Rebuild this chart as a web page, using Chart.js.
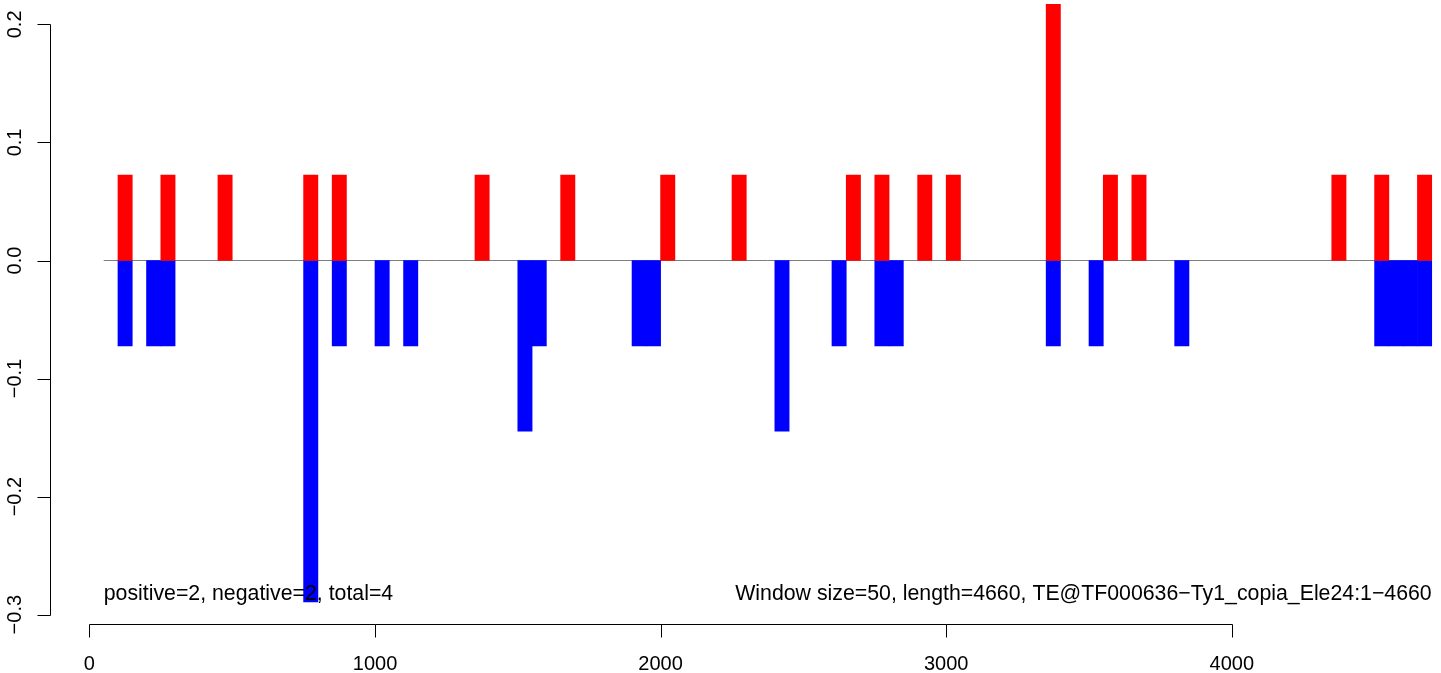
<!DOCTYPE html>
<html>
<head>
<meta charset="utf-8">
<script src="https://cdn.jsdelivr.net/npm/chart.js@4/dist/chart.umd.min.js"></script>
<style>
    body { margin: 0; background: #ffffff; }
    canvas { display: block; }
</style>
</head>
<body>
<canvas id="windowChart" width="1441" height="673"></canvas>
<script>
// Window starts (bp) and values
const windowSize = 50;
const positiveStarts = [100, 250, 450, 750, 850, 1350, 1650, 2000, 2250, 2650, 2750, 2900, 3000, 3350, 3550, 3650, 4350, 4500, 4650];
const positiveValues = [0.0723, 0.0723, 0.0723, 0.0723, 0.0723, 0.0723, 0.0723, 0.0723, 0.0723, 0.0723, 0.0723, 0.0723, 0.0723, 0.2169, 0.0723, 0.0723, 0.0723, 0.0723, 0.0723];
const negativeStarts = [100, 200, 250, 750, 850, 1000, 1100, 1500, 1550, 1900, 1950, 2400, 2600, 2750, 2800, 3350, 3500, 3800, 4500, 4550, 4600, 4650];
const negativeValues = [-0.0723, -0.0723, -0.0723, -0.2892, -0.0723, -0.0723, -0.0723, -0.1446, -0.0723, -0.0723, -0.0723, -0.1446, -0.0723, -0.0723, -0.0723, -0.0723, -0.0723, -0.0723, -0.0723, -0.0723, -0.0723, -0.0723];
const baselineX = [50, 4700];
const baselineY = [0, 0];

const xTickValues = [0, 1000, 2000, 3000, 4000];
const xTickLabels = ["0", "1000", "2000", "3000", "4000"];
const yTickValues = [-0.3, -0.2, -0.1, 0.0, 0.1, 0.2];
const yTickLabels = ["\u22120.3", "\u22120.2", "\u22120.1", "0.0", "0.1", "0.2"];

const leftNote = "positive=2, negative=2, total=4";
const rightNote = "Window size=50, length=4660, TE@TF000636\u2212Ty1_copia_Ele24:1\u22124660";

const fontFamily = '"Liberation Sans", Arial, Helvetica, sans-serif';

function toPoints(starts, values) {
    return starts.map((s, i) => ({ x: s + windowSize / 2, y: values[i] }));
}

// R-style axes (line only spans the tick range) and the two notes
const rAxesPlugin = {
    id: "rAxes",
    afterDraw(chart) {
        const ctx = chart.ctx;
        const xs = chart.scales.x;
        const ys = chart.scales.y;
        const area = chart.chartArea;
        ctx.save();
        ctx.strokeStyle = "#000000";
        ctx.fillStyle = "#000000";
        ctx.lineWidth = 1;

        // y axis
        const axX = area.left - 0.5;
        ctx.beginPath();
        ctx.moveTo(axX, Math.round(ys.getPixelForValue(yTickValues[yTickValues.length - 1])) + 0.5);
        ctx.lineTo(axX, Math.round(ys.getPixelForValue(yTickValues[0])) + 0.5);
        yTickValues.forEach((v) => {
            const py = Math.round(ys.getPixelForValue(v)) + 0.5;
            ctx.moveTo(axX, py);
            ctx.lineTo(axX - 13, py);
        });
        ctx.stroke();
        ctx.font = "20px " + fontFamily;
        ctx.textAlign = "center";
        ctx.textBaseline = "alphabetic";
        yTickValues.forEach((v, i) => {
            ctx.save();
            ctx.translate(20.5, ys.getPixelForValue(v));
            ctx.rotate(-Math.PI / 2);
            ctx.fillText(yTickLabels[i], 0, 0);
            ctx.restore();
        });

        // x axis
        const axY = area.bottom - 0.5;
        ctx.beginPath();
        ctx.moveTo(Math.round(xs.getPixelForValue(xTickValues[0])) + 0.5, axY);
        ctx.lineTo(Math.round(xs.getPixelForValue(xTickValues[xTickValues.length - 1])) + 0.5, axY);
        xTickValues.forEach((v) => {
            const px = Math.round(xs.getPixelForValue(v)) + 0.5;
            ctx.moveTo(px, axY);
            ctx.lineTo(px, axY + 13);
        });
        ctx.stroke();
        xTickValues.forEach((v, i) => {
            ctx.fillText(xTickLabels[i], xs.getPixelForValue(v), 670);
        });

        // notes inside the plot
        ctx.font = "21.3px " + fontFamily;
        ctx.textAlign = "left";
        ctx.fillText(leftNote, xs.getPixelForValue(baselineX[0]), 600);
        ctx.textAlign = "right";
        ctx.fillText(rightNote, xs.getPixelForValue(baselineX[1]), 600);
        ctx.restore();
    }
};

const ctx = document.getElementById("windowChart").getContext("2d");
new Chart(ctx, {
    type: "bar",
    data: {
        datasets: [
            {
                label: "positive",
                data: toPoints(positiveStarts, positiveValues),
                backgroundColor: "#FF0000",
                borderWidth: 0,
                barPercentage: 1,
                categoryPercentage: 1,
                order: 1
            },
            {
                label: "negative",
                data: toPoints(negativeStarts, negativeValues),
                backgroundColor: "#0000FF",
                borderWidth: 0,
                barPercentage: 1,
                categoryPercentage: 1,
                order: 2
            },
            {
                type: "line",
                label: "zero",
                data: baselineX.map((x, i) => ({ x: x, y: baselineY[i] })),
                borderColor: "#7F7F7F",
                borderWidth: 1,
                pointRadius: 0,
                fill: false,
                order: 3
            }
        ]
    },
    options: {
        responsive: false,
        animation: false,
        layout: { padding: { left: 51, right: 0, top: 0, bottom: 48 } },
        plugins: {
            legend: { display: false },
            tooltip: { enabled: false }
        },
        scales: {
            x: {
                type: "linear",
                display: false,
                stacked: true,
                offset: false,
                min: -134.5,
                max: 4732.5
            },
            y: {
                type: "linear",
                display: false,
                min: -0.30874,
                max: 0.22065
            }
        }
    },
    plugins: [rAxesPlugin]
});
</script>
</body>
</html>
